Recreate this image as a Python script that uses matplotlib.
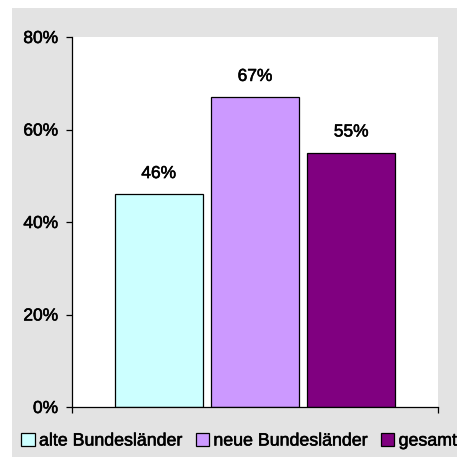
import matplotlib
matplotlib.use("Agg")
import matplotlib.pyplot as plt
from matplotlib.patches import Rectangle
import matplotlib.patheffects as pe

categories = ["alte Bundesländer", "neue Bundesländer", "gesamt"]
values = [46, 67, 55]
colors = ["#CCFFFF", "#CC99FF", "#800080"]
yticks = [0, 20, 40, 60, 80]

plt.rcParams['font.family'] = ['Liberation Sans', 'DejaVu Sans']
W, H = 457, 458
heavy = [pe.withStroke(linewidth=0.4, foreground="black")]
fig = plt.figure(figsize=(W/100, H/100), dpi=100)
fig.patch.set_facecolor("white")
fig.patches.append(Rectangle((12/W, 1-457/H), (457-12)/W, (457-8)/H,
                             transform=fig.transFigure, facecolor="#E3E3E3",
                             edgecolor="none", zorder=-10))

ax = fig.add_axes([72/W, 1-407/H, (438-72)/W, (407-37)/H])
ax.set_zorder(1)
ax.set_facecolor("white")
bars = []
for i, (c, v, col) in enumerate(zip(categories, values, colors)):
    b = ax.bar(i, v, width=0.91, color=col, edgecolor="black", linewidth=0.9, label=c)
    bars.append(b)
    ax.annotate(f"{v}%", (i, v), xytext=(0, 9.5), textcoords="offset points",
                ha="center", va="bottom", fontsize=12.5, path_effects=heavy)

ax.set_xlim(-0.9, 2.9)
ax.set_ylim(0, 80)
ax.set_yticks(yticks)
ax.set_yticklabels([f"{t}%" for t in yticks], fontsize=12.5)
for t in ax.get_yticklabels():
    t.set_path_effects(heavy)
ax.set_xticks([-0.9, 2.9])
ax.set_xticklabels(["", ""])
ax.tick_params(axis="both", direction="out", length=4, width=0.9, color="black", pad=6)
for s in ["top", "right"]:
    ax.spines[s].set_visible(False)
for s in ["left", "bottom"]:
    ax.spines[s].set_linewidth(0.9)

leg = fig.legend(handles=[b[0] for b in bars], labels=categories, loc="center",
                 bbox_to_anchor=(239/W, 1-441/H), ncol=3, frameon=False,
                 fontsize=12.8, handlelength=0.75, handleheight=0.75,
                 handletextpad=0.25, columnspacing=0.75, borderpad=0, borderaxespad=0)
for t in leg.get_texts():
    t.set_path_effects(heavy)

fig.savefig("out.png", dpi=100)
